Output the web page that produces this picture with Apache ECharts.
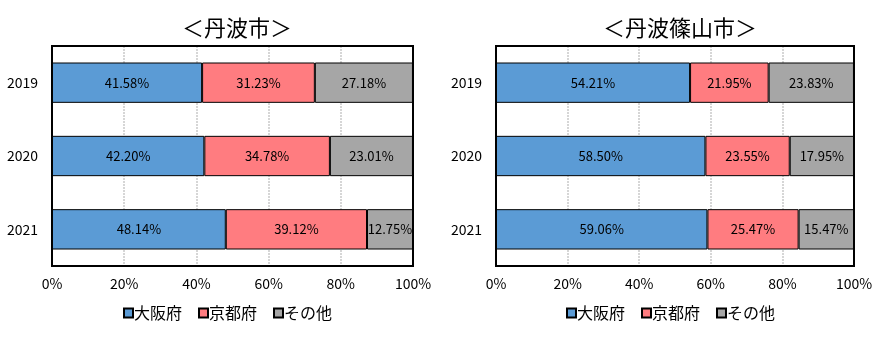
<!DOCTYPE html>
<html><head><meta charset="utf-8">
<script src="https://cdn.jsdelivr.net/npm/echarts@6/dist/echarts.min.js"></script>
<style>html,body{margin:0;padding:0;background:#fff}#c{width:887px;height:338px}</style>
</head><body><div id="c"></div>
<script>
const years = ['2019','2020','2021'];
const seriesNames = ['大阪府','京都府','その他'];
const titles = ['＜丹波市＞','＜丹波篠山市＞'];
const tanbaOsaka = [41.58, 42.20, 48.14];
const tanbaKyoto = [31.23, 34.78, 39.12];
const tanbaOther = [27.18, 23.01, 12.75];
const sasaOsaka = [54.21, 58.50, 59.06];
const sasaKyoto = [21.95, 23.55, 25.47];
const sasaOther = [23.83, 17.95, 15.47];
const xTicks = [0, 20, 40, 60, 80, 100];

const colors = ['#5b9bd5', '#ff7c80', '#a6a6a6'];
const font = '"Noto Sans CJK JP", sans-serif';
const chart = echarts.init(document.getElementById('c'));
const grids = [
  {left: 52, top: 46, width: 361, height: 220},
  {left: 496, top: 46, width: 358, height: 220}
];
const dataSets = [[tanbaOsaka, tanbaKyoto, tanbaOther],[sasaOsaka, sasaKyoto, sasaOther]];
const series = [];
dataSets.forEach((ds, gi) => {
  ds.forEach((vals, si) => {
    series.push({
      name: seriesNames[si], type: 'bar', stack: 's' + gi,
      xAxisIndex: gi, yAxisIndex: gi,
      barCategoryGap: '45%',
      data: vals,
      itemStyle: {color: colors[si], borderColor: '#000', borderWidth: 1},
      label: {show: true, position: 'inside', color: '#000', fontSize: 13, fontFamily: font,
        formatter: p => p.value.toFixed(2) + '%'},
      emphasis: {disabled: true}
    });
  });
});
chart.setOption({
  animation: false,
  title: [
    {text: titles[0], left: 232, top: 12, textAlign: 'center', textStyle: {fontSize: 22, fontWeight: 'normal', color: '#000', fontFamily: font}},
    {text: titles[1], left: 675, top: 12, textAlign: 'center', textStyle: {fontSize: 22, fontWeight: 'normal', color: '#000', fontFamily: font}}
  ],
  grid: grids.map(g => Object.assign({show: false, containLabel: false}, g)),
  graphic: grids.map(g => ({
    type: 'rect', z: 10, silent: true,
    shape: {x: g.left, y: g.top, width: g.width, height: g.height},
    style: {fill: null, stroke: '#000', lineWidth: 2}
  })),
  xAxis: [0,1].map(i => ({
    type: 'value', gridIndex: i, min: xTicks[0], max: xTicks[xTicks.length-1], interval: 20,
    axisLine: {show: false}, axisTick: {show: false},
    splitLine: {show: true, lineStyle: {color: '#d6d6d6', width: 2, type: [2, 1]}},
    axisLabel: {formatter: v => v + '%', fontSize: 14, color: '#000', fontFamily: font, margin: 11}
  })),
  yAxis: [0,1].map(i => ({
    type: 'category', gridIndex: i, data: years, inverse: true,
    axisLine: {show: false}, axisTick: {show: false},
    axisLabel: {fontSize: 14, color: '#000', fontFamily: font, margin: 14}
  })),
  legend: [
    {data: seriesNames, left: 118, top: 300, itemWidth: 9, itemHeight: 9, itemGap: 16, icon: 'rect',
     textStyle: {fontSize: 16, color: '#000', fontFamily: font, padding: [0,0,0,-4]}},
    {data: seriesNames, left: 561, top: 300, itemWidth: 9, itemHeight: 9, itemGap: 16, icon: 'rect',
     textStyle: {fontSize: 16, color: '#000', fontFamily: font, padding: [0,0,0,-4]}}
  ],
  series: series
});
</script></body></html>
